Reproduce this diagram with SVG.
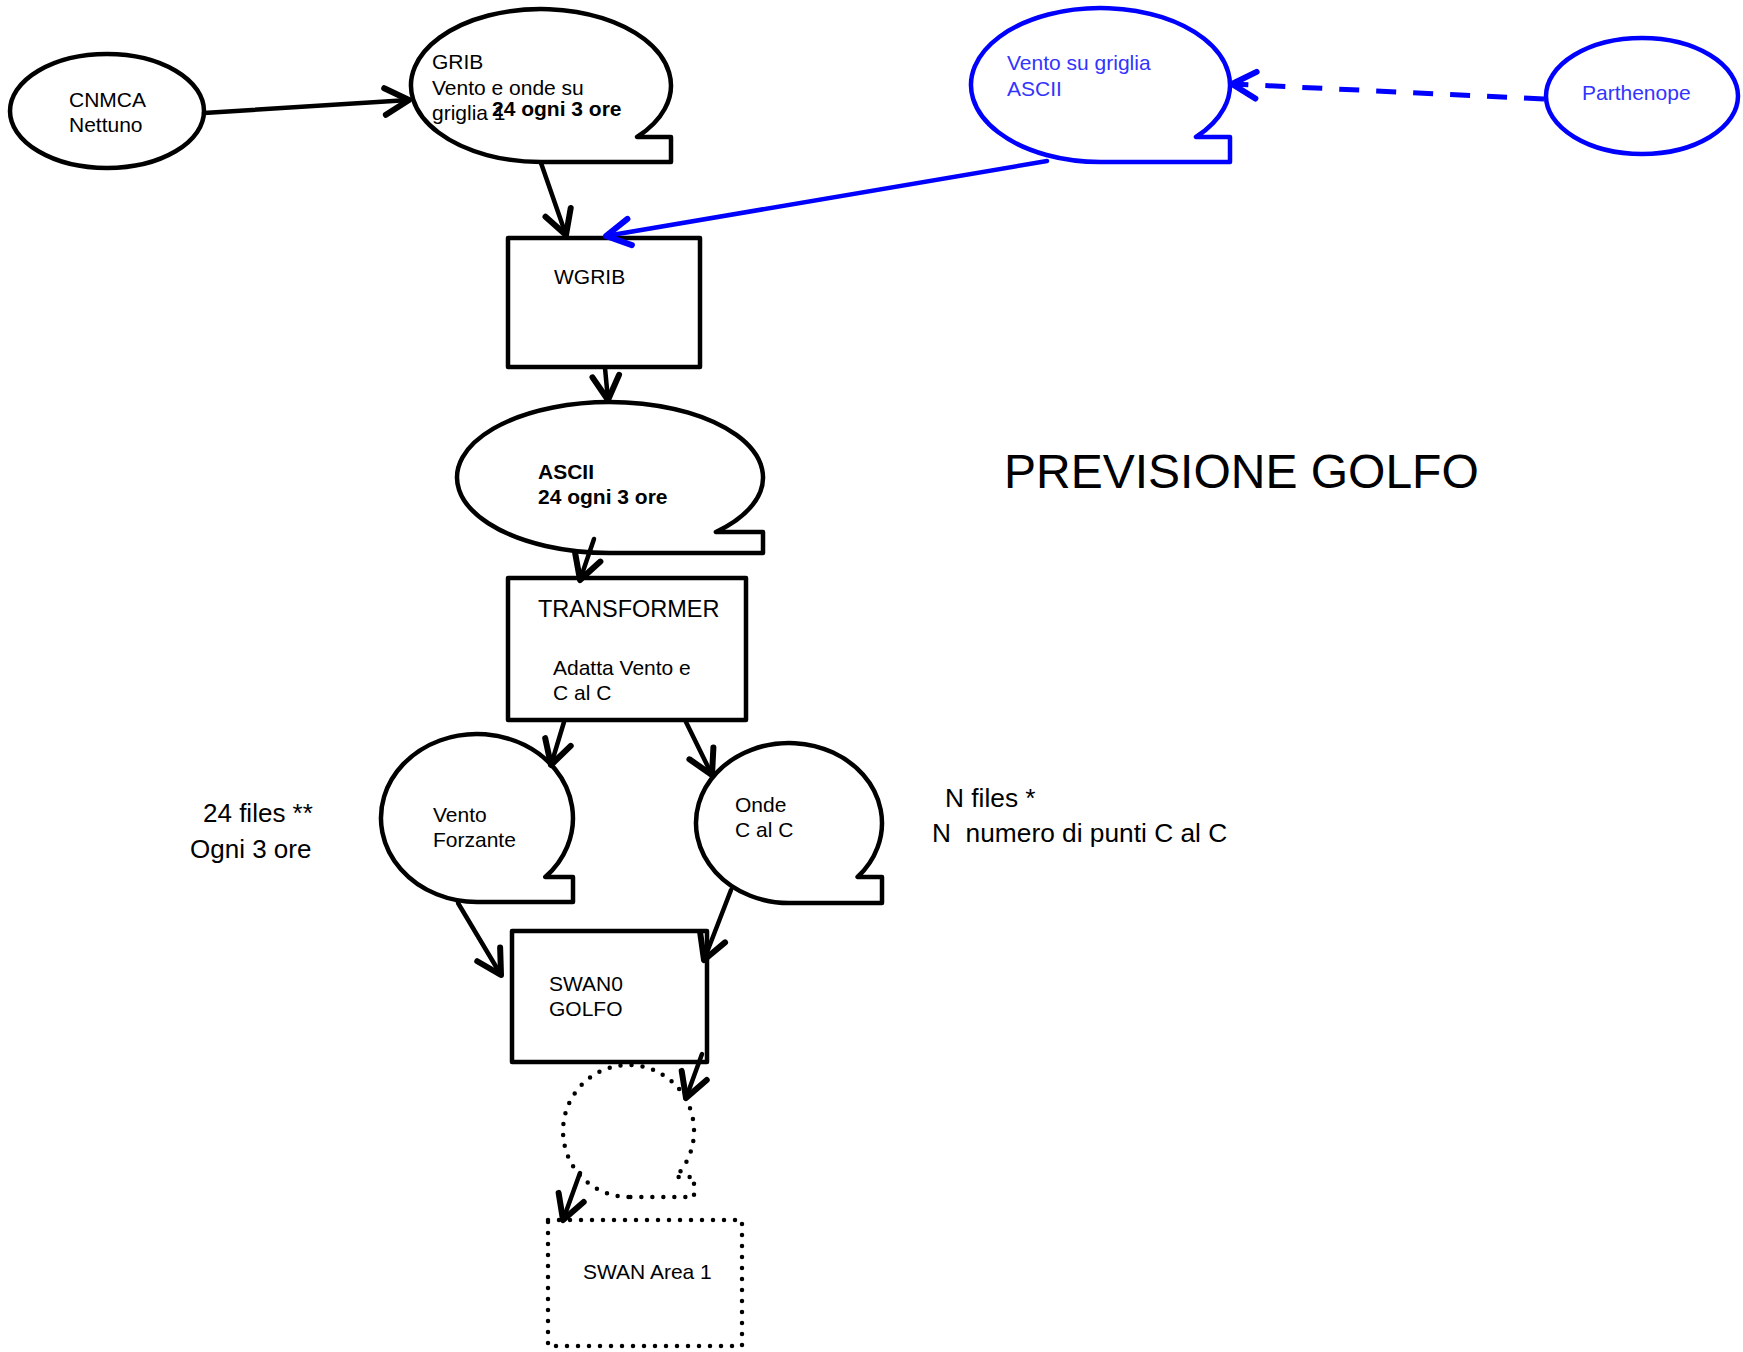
<svg xmlns="http://www.w3.org/2000/svg" width="1743" height="1352" viewBox="0 0 1743 1352">
<style>
text{font-family:"Liberation Sans",Arial,sans-serif;font-size:21px;fill:#000}
.b{font-weight:bold}
.blue{fill:#3333FF}
.shape{fill:#fff;stroke:#000;stroke-width:4.5;stroke-linejoin:round}
.bshape{fill:#fff;stroke:#0000FF;stroke-width:4.5;stroke-linejoin:round}
.dot{fill:#fff;stroke:#000;stroke-width:4.5;stroke-dasharray:0 11;stroke-linecap:round}
.conn{fill:none;stroke:#000;stroke-width:4.5;stroke-linecap:round;marker-end:url(#ah)}
.bconn{fill:none;stroke:#0000FF;stroke-width:4.5;stroke-linecap:round;marker-end:url(#ahb)}
.dash{stroke-dasharray:20 17;stroke-linecap:butt;stroke-width:5}
</style>
<defs>
<marker id="ah" markerUnits="userSpaceOnUse" markerWidth="40" markerHeight="40" refX="0" refY="0" viewBox="-25 -15 30 30" orient="auto" overflow="visible">
<path d="M-18,-10 L0,0 L-18,10" fill="none" stroke="#000" stroke-width="4.5" stroke-linecap="round" stroke-linejoin="round"/>
</marker>
<marker id="ahb" markerUnits="userSpaceOnUse" markerWidth="40" markerHeight="40" refX="0" refY="0" viewBox="-25 -15 30 30" orient="auto" overflow="visible">
<path d="M-18,-10 L0,0 L-18,10" fill="none" stroke="#0000FF" stroke-width="4.5" stroke-linecap="round" stroke-linejoin="round" stroke-dasharray="none"/>
</marker>
</defs>
<rect width="1743" height="1352" fill="#fff"/>

<g id="cnmca">
<ellipse class="shape" cx="107" cy="111" rx="97" ry="57"/>
<text x="69" y="107">CNMCA</text>
<text x="69" y="132">Nettuno</text>
</g>

<g id="grib">
<path class="shape" d="M541,162 A130,76.5 0 1 1 637.1,137 L671,137 L671,162 Z"/>
<text x="432" y="69">GRIB</text>
<text x="432" y="95">Vento e onde su</text>
<text x="432" y="120">griglia 1</text>
<text class="b" x="492" y="116">24 ogni 3 ore</text>
</g>

<g id="vento-ascii">
<path class="bshape" d="M1100.5,162 A129.5,77 0 1 1 1196,137 L1230,137 L1230,162 Z"/>
<text class="blue" x="1007" y="70">Vento su griglia</text>
<text class="blue" x="1007" y="96">ASCII</text>
</g>

<g id="parthenope">
<ellipse class="bshape" cx="1642" cy="96" rx="96" ry="58"/>
<text class="blue" x="1582" y="100">Parthenope</text>
</g>

<g id="wgrib">
<rect class="shape" x="508" y="238" width="192" height="129"/>
<text x="554" y="284">WGRIB</text>
</g>

<g id="ascii">
<path class="shape" d="M610,553 A153,75.5 0 1 1 715.9,532 L763,532 L763,553 Z"/>
<text class="b" x="538" y="479">ASCII</text>
<text class="b" x="538" y="504">24 ogni 3 ore</text>
</g>

<g id="transformer">
<rect class="shape" x="508" y="578" width="238" height="142"/>
<text x="538" y="617" style="font-size:23.5px">TRANSFORMER</text>
<text x="553" y="675">Adatta Vento e</text>
<text x="553" y="700">C al C</text>
</g>

<g id="vento-forzante">
<path class="shape" d="M477,902 A96,84 0 1 1 545.3,877 L573,877 L573,902 Z"/>
<text x="433" y="822">Vento</text>
<text x="433" y="847">Forzante</text>
</g>

<g id="onde">
<path class="shape" d="M789,903 A93,80 0 1 1 857.6,877 L882,877 L882,903 Z"/>
<text x="735" y="812">Onde</text>
<text x="735" y="837">C al C</text>
</g>

<g id="swan0">
<rect class="shape" x="512" y="931" width="195" height="131"/>
<text x="549" y="991">SWAN0</text>
<text x="549" y="1016">GOLFO</text>
</g>

<g id="output-tape">
<path class="dot" d="M628.5,1197 A65.5,66 0 1 1 675.5,1177 L694,1177 L694,1197 Z"/>
</g>

<g id="swan-area1">
<rect class="dot" x="548" y="1220" width="194" height="126"/>
<text x="583" y="1279">SWAN Area 1</text>
</g>

<g id="notes">
<text x="203" y="822" style="font-size:26px">24 files **</text>
<text x="190" y="858" style="font-size:26px">Ogni 3 ore</text>
<text x="945" y="807" style="font-size:26.3px">N files *</text>
<text x="932" y="842" style="font-size:26.3px" xml:space="preserve">N  numero di punti C al C</text>
<text x="1004" y="488" style="font-size:48px">PREVISIONE GOLFO</text>
</g>

<g id="connectors">
<line class="conn" x1="204" y1="113" x2="409" y2="100"/>
<line class="conn" x1="541" y1="163" x2="566" y2="235"/>
<line class="bconn" x1="1047" y1="161" x2="606" y2="236"/>
<line class="bconn dash" x1="1544" y1="99" x2="1232" y2="84"/>
<line class="conn" x1="605" y1="368" x2="608" y2="400"/>
<line class="conn" x1="594" y1="539" x2="580" y2="580"/>
<line class="conn" x1="564" y1="722" x2="551" y2="765"/>
<line class="conn" x1="686" y1="722" x2="712" y2="775"/>
<line class="conn" x1="458" y1="903" x2="501" y2="975"/>
<line class="conn" x1="731" y1="890" x2="704" y2="960"/>
<line class="conn" x1="702" y1="1054" x2="686" y2="1098"/>
<line class="conn" x1="580" y1="1173" x2="563" y2="1220"/>
</g>
</svg>
